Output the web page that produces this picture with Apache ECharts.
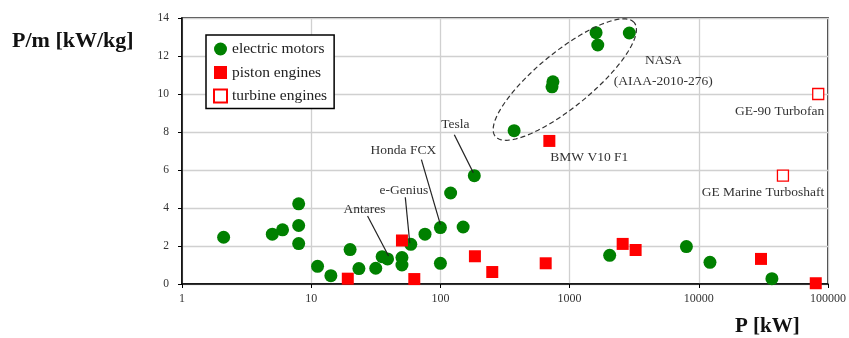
<!DOCTYPE html>
<html>
<head>
<meta charset="utf-8">
<script src="https://cdn.jsdelivr.net/npm/echarts@6/dist/echarts.min.js"></script>
<style>html,body{margin:0;padding:0;background:#fff;}#c{width:849px;height:338px;}</style>
</head>
<body>
<div id="c"></div>
<script>
// ---- data ----
const seriesNames = ['electric motors', 'piston engines', 'turbine engines'];
const electricP  = [2.1, 5, 6, 8, 8, 8, 11.2, 14.2, 20, 23.4, 31.6, 35.4, 39, 50.4, 50.4, 59, 76, 100, 100, 120, 150, 183, 372, 743, 731, 1603, 1652, 2900, 2043, 8017, 12200, 36800];
const electricPm = [2.46, 2.62, 2.85, 4.22, 3.08, 2.13, 0.93, 0.44, 1.81, 0.81, 0.83, 1.44, 1.32, 1.39, 1.0, 2.09, 2.62, 2.97, 1.09, 4.79, 3.0, 5.7, 8.07, 10.64, 10.38, 13.23, 12.58, 13.21, 1.51, 1.97, 1.14, 0.28];
const pistonP    = [19.2, 50.4, 62.8, 185, 252, 697, 653, 2575, 3243, 30300, 80400];
const pistonPm   = [0.28, 2.29, 0.26, 1.46, 0.63, 7.53, 1.09, 2.11, 1.79, 1.32, 0.04];
const turbineP   = [84000, 44800];
const turbinePm  = [10.0, 5.7];
const xTickLabels = ['1', '10', '100', '1000', '10000', '100000'];
const yTickValues = [0, 2, 4, 6, 8, 10, 12, 14];
// annotated points: name, P, P/m
const leaderNames = ['Tesla', 'Honda FCX', 'e-Genius', 'Antares'];
const leaderP     = [183, 100, 59, 39];
const leaderPm    = [5.7, 2.97, 2.09, 1.32];
const noteNames   = ['NASA\n(AIAA-2010-276)', 'BMW V10 F1', 'GE-90 Turbofan', 'GE Marine Turboshaft'];
const noteP       = [2900, 697, 84000, 44800];
const notePm      = [13.21, 7.53, 10.0, 5.7];
const nasaGroupCenter = [918, 10.76];

// ---- styles / layout (pixel offsets relative to the annotated point) ----
const FONT = 'Liberation Serif';
const leaderStyle = [
  {text: [-19, -51], from: [-20, -41], to: [-1, -3]},
  {text: [-37, -77], from: [-19, -68], to: [0, -3]},
  {text: [-7, -54],  from: [-5.5, -47], to: [-1, -1]},
  {text: [-23, -49], from: [-20, -43], to: [1, -3]}
];
const noteStyle = [
  {off: [34, 38], align: 'center'},
  {off: [1, 17], align: 'left'},
  {off: [6, 17], align: 'right'},
  {off: [-20, 17], align: 'center'}
];
const ellipseStyle = {a: 0.695, b: 0.213, angleDeg: 39.3}; // radii in decades of the x axis

const chart = echarts.init(document.getElementById('c'), null, {renderer: 'canvas'});

const option = {
  animation: false,
  backgroundColor: '#fff',
  grid: {left: 182, right: 17.5, top: 18, bottom: 54, show: true, borderColor: '#000', borderWidth: 1.5, containLabel: false},
  legend: {
    orient: 'vertical', left: 206, top: 35,
    padding: [6, 7, 4.5, 7],
    itemWidth: 13, itemHeight: 13, itemGap: 7.5,
    backgroundColor: '#fff', borderColor: '#000', borderWidth: 1.5,
    textStyle: {fontFamily: FONT, fontSize: 15.5, color: '#222'},
    data: [
      {name: seriesNames[0], icon: 'circle'},
      {name: seriesNames[1], icon: 'rect'},
      {name: seriesNames[2], icon: 'rect'}
    ]
  },
  xAxis: {
    type: 'log', logBase: 10, min: 1, max: 100000,
    axisLine: {show: true, onZero: false, lineStyle: {color: '#000', width: 1.5}},
    axisTick: {show: true, length: 4, lineStyle: {color: '#000', width: 1}},
    minorTick: {show: false},
    splitLine: {show: true, lineStyle: {color: '#d0d0d0', width: 1.3}},
    axisLabel: {
      fontFamily: FONT, fontSize: 12, color: '#333', margin: 9,
      formatter: function (v) { const i = Math.round(Math.log10(v)); return xTickLabels[i] !== undefined ? xTickLabels[i] : String(v); }
    }
  },
  yAxis: {
    type: 'value', min: yTickValues[0], max: yTickValues[yTickValues.length - 1], interval: 2,
    axisLine: {show: true, lineStyle: {color: '#000', width: 1.5}},
    axisTick: {show: true, length: 4, lineStyle: {color: '#000', width: 1}},
    splitLine: {show: true, lineStyle: {color: '#d0d0d0', width: 1.3}},
    axisLabel: {fontFamily: FONT, fontSize: 11.5, color: '#333', margin: 13}
  },
  series: [
    {
      name: seriesNames[0], type: 'scatter', symbol: 'circle', symbolSize: 13, z: 3,
      itemStyle: {color: '#008000', opacity: 1},
      data: electricP.map((p, i) => [p, electricPm[i]])
    },
    {
      name: seriesNames[1], type: 'scatter', symbol: 'rect', symbolSize: 12, z: 4,
      itemStyle: {color: '#ff0000', opacity: 1},
      data: pistonP.map((p, i) => [p, pistonPm[i]])
    },
    {
      name: seriesNames[2], type: 'scatter', symbol: 'rect', symbolSize: 11, z: 4,
      itemStyle: {color: '#ffffff', borderColor: '#ff0000', borderWidth: 1.3, opacity: 1},
      data: turbineP.map((p, i) => [p, turbinePm[i]])
    }
  ]
};
chart.setOption(option);

// ---- annotations positioned through the chart's own scales ----
const g = [];
g.push({type: 'text', left: 12, top: 30, z: 10,
  style: {text: 'P/m [kW/kg]', fontFamily: FONT, fontSize: 22, fontWeight: 'bold', fill: '#111'}});
g.push({type: 'text', left: 735, top: 316, z: 10,
  style: {text: 'P [kW]', fontFamily: FONT, fontSize: 21, fontWeight: 'bold', fill: '#111'}});

leaderNames.forEach((name, i) => {
  const pt = chart.convertToPixel({gridIndex: 0}, [leaderP[i], leaderPm[i]]);
  const s = leaderStyle[i];
  g.push({type: 'line', z: 5, silent: true,
    shape: {x1: pt[0] + s.from[0], y1: pt[1] + s.from[1], x2: pt[0] + s.to[0], y2: pt[1] + s.to[1]},
    style: {stroke: '#222', lineWidth: 1.2}});
  g.push({type: 'text', z: 6, x: pt[0] + s.text[0], y: pt[1] + s.text[1],
    style: {text: name, fontFamily: FONT, fontSize: 13.5, fill: '#333', align: 'center', verticalAlign: 'middle'}});
});

noteNames.forEach((name, i) => {
  const pt = chart.convertToPixel({gridIndex: 0}, [noteP[i], notePm[i]]);
  const s = noteStyle[i];
  g.push({type: 'text', z: 6, x: pt[0] + s.off[0], y: pt[1] + s.off[1],
    style: {text: name, fontFamily: FONT, fontSize: 13.5, lineHeight: 20.7, fill: '#333', align: s.align, verticalAlign: 'middle'}});
});

// dashed ellipse (decoration) around the NASA group
const c = chart.convertToPixel({gridIndex: 0}, nasaGroupCenter);
const decade = chart.convertToPixel({gridIndex: 0}, [10, 0])[0] - chart.convertToPixel({gridIndex: 0}, [1, 0])[0];
const ea = ellipseStyle.a * decade, eb = ellipseStyle.b * decade, th = ellipseStyle.angleDeg * Math.PI / 180;
const ring = [];
for (let k = 0; k <= 120; k++) {
  const t = 2 * Math.PI * k / 120;
  const u = ea * Math.cos(t), v = eb * Math.sin(t);
  ring.push([c[0] + u * Math.cos(th) - v * Math.sin(th), c[1] - u * Math.sin(th) - v * Math.cos(th)]);
}
g.push({type: 'polyline', z: 5, silent: true, shape: {points: ring},
  style: {fill: 'none', stroke: '#333', lineWidth: 1.2, lineDash: [5, 3]}});

chart.setOption({graphic: g});
</script>
</body>
</html>
